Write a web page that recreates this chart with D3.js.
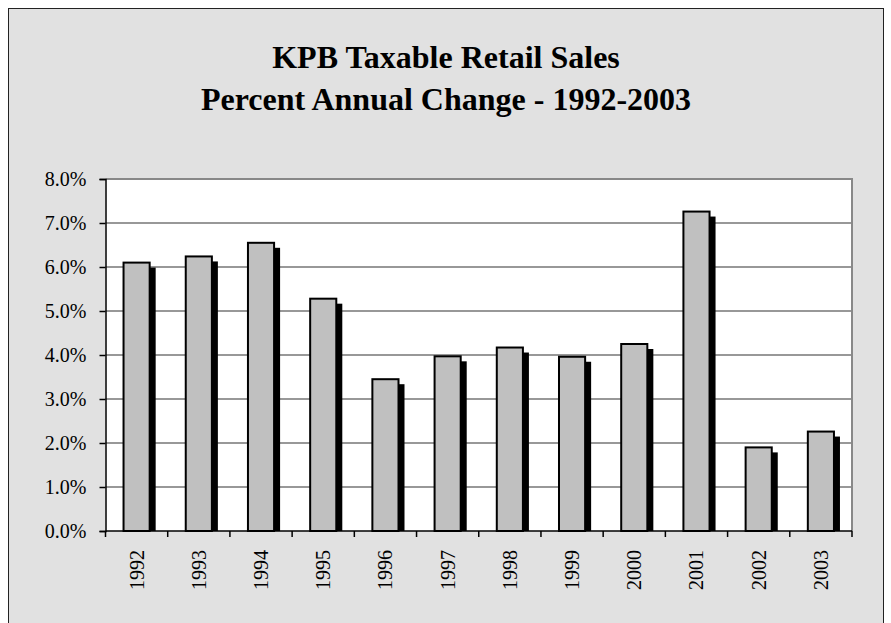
<!DOCTYPE html>
<html>
<head>
<meta charset="utf-8">
<script src="https://cdn.jsdelivr.net/npm/d3@7"></script>
<style>
  body { margin: 0; background: #ffffff; }
  svg text { font-family: "Times New Roman", "Liberation Serif", Times, serif; fill: #000; }
</style>
</head>
<body>
<script>
// chart data
var years = ["1992", "1993", "1994", "1995", "1996", "1997", "1998", "1999", "2000", "2001", "2002", "2003"];
var pctChange = [6.10, 6.24, 6.55, 5.28, 3.45, 3.97, 4.17, 3.96, 4.25, 7.26, 1.90, 2.26];
var yTicks = [0, 1, 2, 3, 4, 5, 6, 7, 8];
var titleLines = ["KPB Taxable Retail Sales", "Percent Annual Change - 1992-2003"];

var W = 891, H = 623;
var plot = { left: 105.5, top: 179, right: 852, bottom: 531 };
var serif = "'Times New Roman', 'Liberation Serif', Times, serif";

var svg = d3.select("body").append("svg")
    .attr("width", W)
    .attr("height", H);

// outer frame
svg.append("rect")
    .attr("x", 8.5).attr("y", 8.5)
    .attr("width", 875).attr("height", 630)
    .attr("fill", "#e1e1e1")
    .attr("stroke", "#222").attr("stroke-width", 1);

// title
svg.selectAll("text.title")
    .data(titleLines)
    .enter().append("text")
    .attr("class", "title")
    .attr("x", 446)
    .attr("y", function (d, i) { return 68 + i * 42; })
    .attr("text-anchor", "middle")
    .style("font-family", serif)
    .style("font-size", "32px")
    .style("font-weight", "bold")
    .text(function (d) { return d; });

var x = d3.scaleBand()
    .domain(years)
    .range([plot.left, plot.right])
    .paddingInner(0.58)
    .paddingOuter(0.29);

var xb = d3.scaleBand().domain(years).range([plot.left, plot.right]);

var y = d3.scaleLinear()
    .domain([0, 8])
    .range([plot.bottom, plot.top]);

// plot area
svg.append("rect")
    .attr("x", plot.left).attr("y", plot.top)
    .attr("width", plot.right - plot.left)
    .attr("height", plot.bottom - plot.top)
    .attr("fill", "#fff");

// gridlines
svg.append("g")
  .selectAll("line")
    .data(yTicks.slice(1, -1))
    .enter().append("line")
    .attr("x1", plot.left).attr("x2", plot.right)
    .attr("y1", function (d) { return y(d); })
    .attr("y2", function (d) { return y(d); })
    .attr("stroke", "#333").attr("stroke-width", 1.2);

// top / right border
svg.append("path")
    .attr("d", "M" + plot.left + "," + plot.top + "H" + plot.right + "V" + plot.bottom)
    .attr("fill", "none")
    .attr("stroke", "#888").attr("stroke-width", 2);

// bars: shadow then face
var bars = svg.append("g");
bars.selectAll("rect.shadow")
    .data(pctChange)
    .enter().append("rect")
    .attr("class", "shadow")
    .attr("x", function (d, i) { return x(years[i]) + 6; })
    .attr("y", function (d) { return y(d) + 5; })
    .attr("width", x.bandwidth())
    .attr("height", function (d) { return plot.bottom - y(d) - 5; })
    .attr("fill", "#000");

bars.selectAll("rect.face")
    .data(pctChange)
    .enter().append("rect")
    .attr("class", "face")
    .attr("x", function (d, i) { return x(years[i]); })
    .attr("y", function (d) { return y(d); })
    .attr("width", x.bandwidth())
    .attr("height", function (d) { return plot.bottom - y(d); })
    .attr("fill", "#c0c0c0")
    .attr("stroke", "#000").attr("stroke-width", 2);

// y axis
var yAxis = svg.append("g")
    .attr("transform", "translate(" + plot.left + ",0)")
    .call(d3.axisLeft(y)
      .tickValues(yTicks)
      .tickSize(6)
      .tickPadding(13)
      .tickFormat(function (d) { return d3.format(".1f")(d) + "%"; }));
yAxis.attr("font-family", null);
yAxis.select(".domain").attr("stroke", "#000").attr("stroke-width", 1.5);
yAxis.selectAll(".tick line").attr("stroke", "#000").attr("stroke-width", 1.5);
yAxis.selectAll("text")
    .style("font-family", serif)
    .style("font-size", "20px")
    .attr("fill", "#000");

// x axis
var xAxis = svg.append("g")
    .attr("transform", "translate(0," + plot.bottom + ")");
xAxis.append("line")
    .attr("x1", plot.left).attr("x2", plot.right)
    .attr("stroke", "#000").attr("stroke-width", 1.5);
xAxis.selectAll("line.tk")
    .data(years.concat(["end"]))
    .enter().append("line")
    .attr("class", "tk")
    .attr("x1", function (d, i) { return i < years.length ? xb(d) : plot.right; })
    .attr("x2", function (d, i) { return i < years.length ? xb(d) : plot.right; })
    .attr("y1", 0).attr("y2", 6)
    .attr("stroke", "#000").attr("stroke-width", 1.5);
xAxis.selectAll("text")
    .data(years)
    .enter().append("text")
    .attr("transform", function (d) {
      return "translate(" + (xb(d) + xb.bandwidth() / 2 + 7) + ",19) rotate(-90)";
    })
    .attr("text-anchor", "end")
    .style("font-family", serif)
    .style("font-size", "20px")
    .text(function (d) { return d; });
</script>
</body>
</html>
